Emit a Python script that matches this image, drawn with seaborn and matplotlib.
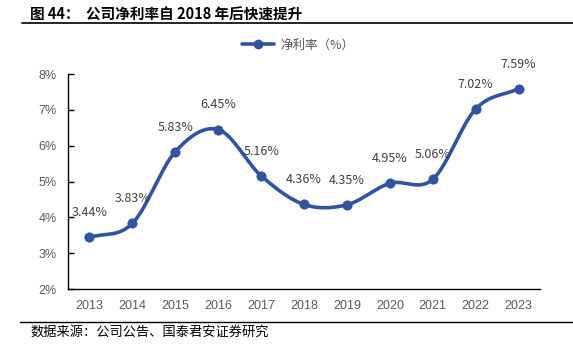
import numpy as np
import pandas as pd
import matplotlib
matplotlib.use("Agg")
import matplotlib.pyplot as plt
import seaborn as sns
from matplotlib.lines import Line2D

years = ["2013", "2014", "2015", "2016", "2017", "2018", "2019", "2020", "2021", "2022", "2023"]
net_margin = [3.44, 3.83, 5.83, 6.45, 5.16, 4.36, 4.35, 4.95, 5.06, 7.02, 7.59]
labels = ["3.44%", "3.83%", "5.83%", "6.45%", "5.16%", "4.36%", "4.35%", "4.95%", "5.06%", "7.02%", "7.59%"]
y_ticks = [2, 3, 4, 5, 6, 7, 8]
y_ticklabels = ["2%", "3%", "4%", "5%", "6%", "7%", "8%"]
title = "图 44：  公司净利率自 2018 年后快速提升"
source = "数据来源：公司公告、国泰君安证券研究"
legend_label = "净利率（%）"

sns.set_theme(style="white")
plt.rcParams['font.family'] = ['Noto Sans CJK SC', 'DejaVu Sans']

LINE = "#2F54A2"
GRAY = "#595959"

fig = plt.figure(figsize=(5.73, 3.48), dpi=100)
ax = fig.add_axes([68/573, 1-289/348, (540-68)/573, (289-74)/348])

x = np.arange(len(years), dtype=float)
y = np.array(net_margin)

# Catmull-Rom smoothing of the drawn path (style only)
def catmull(xp, yp, n=30):
    P = np.column_stack([xp, yp])
    P = np.vstack([2*P[0]-P[1], P, 2*P[-1]-P[-2]])
    out = []
    for i in range(1, len(P)-2):
        p0, p1, p2, p3 = P[i-1], P[i], P[i+1], P[i+2]
        t = np.linspace(0, 1, n, endpoint=False)[:, None]
        seg = 0.5*((2*p1) + (-p0+p2)*t + (2*p0-5*p1+4*p2-p3)*t**2 + (-p0+3*p1-3*p2+p3)*t**3)
        out.append(seg)
    out.append(P[-2][None, :])
    return np.vstack(out)

curve = catmull(x, y)
df_curve = pd.DataFrame({"x": curve[:, 0], "y": curve[:, 1]})
df_pts = pd.DataFrame({"x": x, "y": y})

sns.lineplot(data=df_curve, x="x", y="y", ax=ax, color=LINE, linewidth=2.6, sort=False, estimator=None)
sns.scatterplot(data=df_pts, x="x", y="y", ax=ax, color=LINE, s=45, edgecolor=LINE, zorder=3)

for xi, yi, lab in zip(x, y, labels):
    ax.annotate(lab, (xi, yi), xytext=(0, 13), textcoords="offset points",
                ha="center", va="bottom", fontsize=9, color="#404040")

ax.set_xlim(-0.5, 10.5)
ax.set_ylim(2, 8)
ax.set_yticks(y_ticks)
ax.set_yticklabels(y_ticklabels)
ax.set_xticks(x)
ax.set_xticklabels(years)
ax.set_xlabel("")
ax.set_ylabel("")
for lab in ax.get_xticklabels() + ax.get_yticklabels():
    lab.set_fontfamily(['Liberation Sans', 'DejaVu Sans'])
    lab.set_fontsize(9)
    lab.set_color(GRAY)
ax.tick_params(axis="y", direction="in", length=4, width=1, color="black", pad=8, left=True)
ax.tick_params(axis="x", length=0, pad=8)
for s in ["top", "right"]:
    ax.spines[s].set_visible(False)
for s in ["left", "bottom"]:
    ax.spines[s].set_color("black")
    ax.spines[s].set_linewidth(1.0)
ax.grid(False)

handle = Line2D([0], [0], color=LINE, lw=2.6, marker="o", markersize=6)
fig.legend([handle], [legend_label], loc="center", bbox_to_anchor=(298/573, 1-45/348),
           frameon=False, fontsize=9, labelcolor=GRAY, handlelength=2.6, handletextpad=0.5)

fig.text(30/573, 1-15/348, title, fontsize=10.5, fontweight="bold", ha="left", va="center", color="black")
fig.add_artist(Line2D([22/573, 1.0], [1-23/348, 1-23/348], color="black", lw=1.2))
fig.add_artist(Line2D([20/573, 1.0], [1-322/348, 1-322/348], color="black", lw=1.0))
fig.text(30/573, 1-332/348, source, fontsize=9.5, ha="left", va="center", color="black")

fig.savefig("out.png", dpi=100)
